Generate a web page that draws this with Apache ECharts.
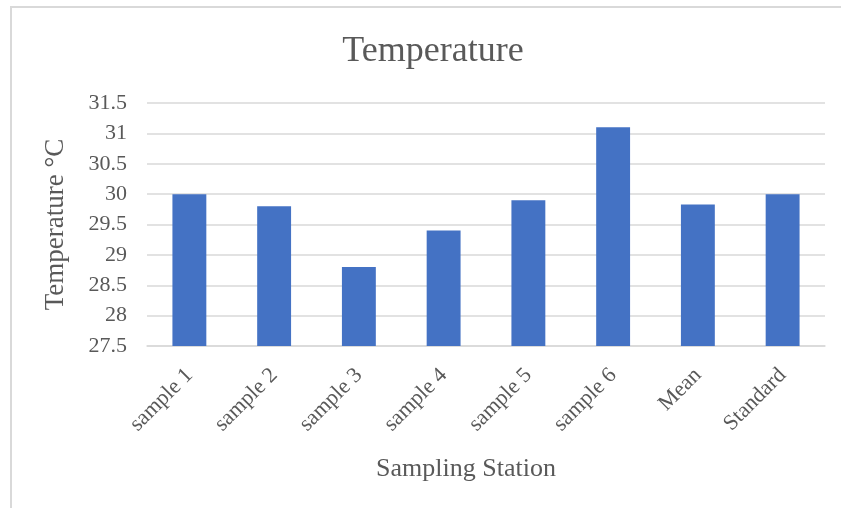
<!DOCTYPE html>
<html>
<head>
<meta charset="utf-8">
<script src="https://cdn.jsdelivr.net/npm/echarts@6/dist/echarts.min.js"></script>
<style>
html,body{margin:0;padding:0;background:#fff;}
#chart{width:841px;height:508px;}
</style>
</head>
<body>
<div id="chart"></div>
<script>
const categories = ['sample 1','sample 2','sample 3','sample 4','sample 5','sample 6','Mean','Standard'];
const temperature = [30, 29.8, 28.8, 29.4, 29.9, 31.1, 29.83, 30];
const yMin = 27.5, yMax = 31.5, yStep = 0.5;

const font = '"Liberation Serif", "Times New Roman", serif';
const textColor = '#595959';
const chart = echarts.init(document.getElementById('chart'));
chart.setOption({
  animation: false,
  backgroundColor: '#ffffff',
  graphic: [{
    type: 'rect',
    shape: {x: 11, y: 7, width: 900, height: 600},
    style: {fill: 'none', stroke: '#d9d9d9', lineWidth: 2},
    silent: true
  }],
  title: {
    text: 'Temperature',
    left: 428, top: 29, textAlign: 'center',
    textStyle: {fontFamily: font, fontSize: 36, fontWeight: 'normal', color: textColor}
  },
  grid: {left: 147, right: 16, top: 103, bottom: 162},
  xAxis: {
    type: 'category',
    data: categories,
    name: 'Sampling Station',
    nameLocation: 'middle',
    nameGap: 110,
    nameTextStyle: {fontFamily: font, fontSize: 26, color: textColor, padding: [0, 40, 0, 0]},
    axisLine: {lineStyle: {color: '#d9d9d9', width: 1.5}},
    axisTick: {show: false},
    axisLabel: {rotate: 45, margin: 26, fontFamily: font, fontSize: 22, color: textColor, interval: 0}
  },
  yAxis: {
    type: 'value',
    min: yMin, max: yMax, interval: yStep,
    name: 'Temperature \u00B0C',
    nameLocation: 'middle',
    nameGap: 78,
    nameTextStyle: {fontFamily: font, fontSize: 27, color: textColor},
    axisLine: {show: false},
    axisTick: {show: false},
    axisLabel: {margin: 20, fontFamily: font, fontSize: 22, color: textColor},
    splitLine: {lineStyle: {color: '#d9d9d9', width: 1.5}}
  },
  series: [{
    type: 'bar',
    data: temperature,
    barWidth: '40%',
    itemStyle: {color: '#4472c4'}
  }]
});
</script>
</body>
</html>
